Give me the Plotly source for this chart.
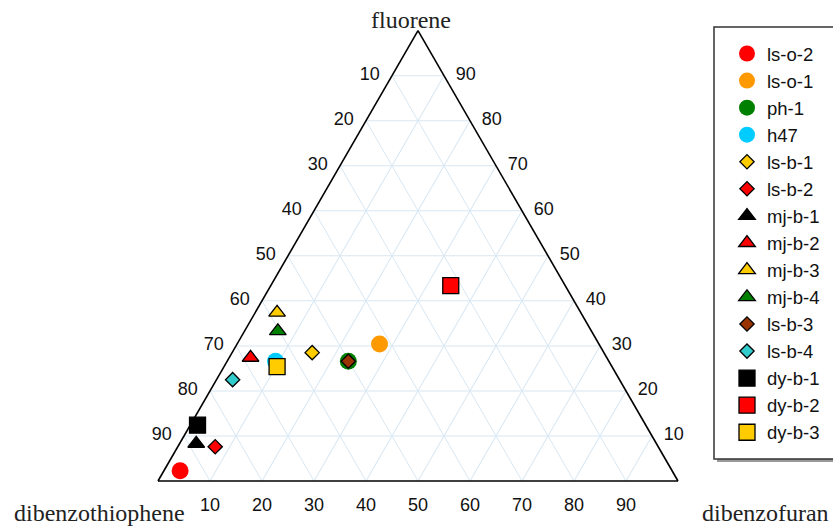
import plotly.graph_objects as go

# Sample composition (percent of the three-compound sum)
samples = ["ls-o-2", "ls-o-1", "ph-1", "h47", "ls-b-1", "ls-b-2", "mj-b-1", "mj-b-2",
           "mj-b-3", "mj-b-4", "ls-b-3", "ls-b-4", "dy-b-1", "dy-b-2", "dy-b-3"]
fluorene = [2.3, 30.4, 26.6, 26.6, 28.5, 7.6, 8.3, 27.4, 37.4, 33.3, 26.6, 22.5, 12.4, 43.4, 25.4]
dibenzothiophene = [94.6, 42.2, 50.1, 64.1, 56.1, 85.2, 88.5, 68.5, 58.4, 60.3, 50.1, 74.4, 86.2, 22.0, 64.4]
dibenzofuran = [3.1, 27.4, 23.3, 9.3, 15.4, 7.2, 3.2, 4.1, 4.2, 6.4, 23.3, 3.1, 1.4, 34.6, 10.2]

tick_values = [10, 20, 30, 40, 50, 60, 70, 80, 90]

# Marker styling per sample
symbols = ["circle", "circle", "circle", "circle", "diamond", "diamond",
           "triangle-up", "triangle-up", "triangle-up", "triangle-up",
           "diamond", "diamond", "square", "square", "square"]
colors = ["#ff0000", "#ff9900", "#008000", "#00ccff", "#ffcc00", "#ff0000",
          "#000000", "#ff0000", "#ffcc00", "#008000", "#993300", "#33cccc",
          "#000000", "#ff0000", "#ffcc00"]
sizes = {"circle": 17, "diamond": 11, "triangle-up": 14.5, "square": 16}

W, H = 833, 526
sans = dict(family="Liberation Sans, Arial, sans-serif", size=18, color="#111111")
serif = dict(family="Liberation Serif, Times New Roman, serif", size=24, color="#222222")

fig = go.Figure()

# Edge labels: dibenzothiophene % on the left edge, fluorene % on the right edge,
# dibenzofuran % along the base. An invisible marker sets the gap to the edge.
comp = [100 - v for v in tick_values]
zeros = [0] * len(tick_values)
edge_labels = [
    dict(a=comp, b=tick_values, c=zeros, pos="middle left", gap=18),
    dict(a=tick_values, b=zeros, c=comp, pos="middle right", gap=17),
    dict(a=zeros, b=comp, c=tick_values, pos="bottom center", gap=25),
]
for lab in edge_labels:
    fig.add_trace(go.Scatterternary(
        a=lab["a"], b=lab["b"], c=lab["c"],
        mode="markers+text", text=[str(v) for v in tick_values],
        textposition=lab["pos"], textfont=sans,
        marker=dict(size=lab["gap"], opacity=0),
        hoverinfo="skip", showlegend=False, cliponaxis=False,
    ))

for i, name in enumerate(samples):
    sym = symbols[i]
    outline = 0 if sym == "circle" else 1.3
    fig.add_trace(go.Scatterternary(
        a=[fluorene[i]], b=[dibenzothiophene[i]], c=[dibenzofuran[i]],
        mode="markers", name=name,
        marker=dict(symbol=sym, size=sizes[sym], color=colors[i],
                    line=dict(color="black", width=outline)),
        cliponaxis=False,
    ))


def ternary_axis():
    return dict(
        tickmode="array", tickvals=tick_values, showticklabels=False, ticks="",
        showgrid=True, gridcolor="#d8e7f2", gridwidth=1,
        showline=True, linecolor="black", linewidth=1.6,
        title=dict(text=""),
    )


cx, tri_w = 418, 520
tri_h = tri_w * 3 ** 0.5 / 2
bottom = 481
fig.update_layout(
    width=W, height=H,
    margin=dict(l=0, r=0, t=0, b=0),
    paper_bgcolor="white",
    ternary=dict(
        sum=100, bgcolor="white",
        domain=dict(x=[(cx - tri_w / 2) / W, (cx + tri_w / 2) / W],
                    y=[(H - bottom) / H, (H - bottom + tri_h) / H]),
        aaxis=ternary_axis(), baxis=ternary_axis(), caxis=ternary_axis(),
    ),
    showlegend=True,
    legend=dict(
        x=727 / W, y=1 - 35 / H, xanchor="left", yanchor="top",
        bgcolor="rgba(0,0,0,0)", borderwidth=0,
        font=dict(family="Liberation Sans, Arial, sans-serif", size=18.5, color="#111111"),
        itemsizing="trace",
    ),
    shapes=[
        dict(type="rect", xref="paper", yref="paper", layer="below",
             x0=717 / W, x1=1.1, y0=1 - 462 / H, y1=1 - 30 / H,
             fillcolor="#9a9a9a", line=dict(width=0)),
        dict(type="rect", xref="paper", yref="paper", layer="below",
             x0=714 / W, x1=1.1, y0=1 - 459 / H, y1=1 - 27 / H,
             fillcolor="white", line=dict(color="#333333", width=1.5)),
    ],
    annotations=[
        dict(text="fluorene", x=411 / W, y=1 - 20 / H, xref="paper", yref="paper",
             showarrow=False, xanchor="center", yanchor="middle", font=serif),
        dict(text="dibenzothiophene", x=99 / W, y=1 - 513 / H, xref="paper", yref="paper",
             showarrow=False, xanchor="center", yanchor="middle", font=serif),
        dict(text="dibenzofuran", x=765 / W, y=1 - 513 / H, xref="paper", yref="paper",
             showarrow=False, xanchor="center", yanchor="middle", font=serif),
    ],
)

fig.write_html("out.html")
